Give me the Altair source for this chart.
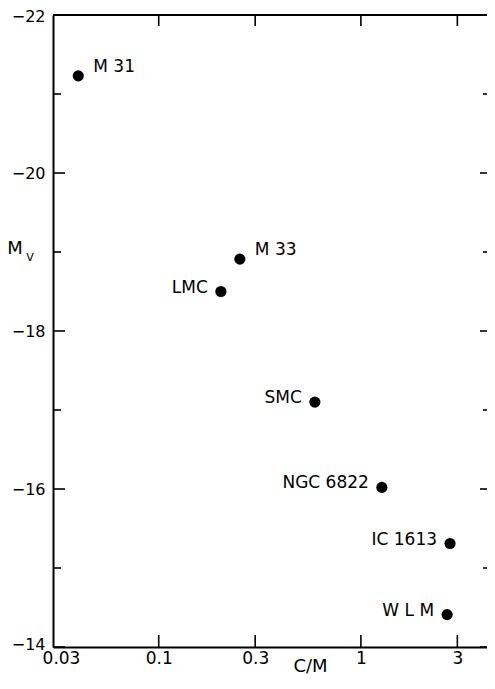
import altair as alt
import pandas as pd

# ---- data ----
galaxies = ["M 31", "M 33", "LMC", "SMC", "NGC 6822", "IC 1613", "W L M"]
c_over_m = [0.040, 0.252, 0.203, 0.592, 1.27, 2.76, 2.67]
m_v = [-21.23, -18.91, -18.50, -17.10, -16.02, -15.31, -14.41]
label_side = ["right", "right", "left", "left", "left", "left", "left"]

y_major = [-22, -20, -18, -16, -14]
y_minor = [-21, -19, -17, -15]
x_ticks = [0.1, 0.3, 1, 3]
x_labels = [0.03, 0.1, 0.3, 1, 3]

W, H = 434, 632
FONT = "DejaVu Sans"

df = pd.DataFrame({"name": galaxies, "cm": c_over_m, "mv": m_v, "side": label_side})

xs = alt.Scale(type="log", domain=[0.03, 4.205], nice=False)
ys = alt.Scale(domain=[-22, -14], reverse=True, nice=False, zero=False)

base = alt.Chart(df)

points = base.mark_circle(size=125, color="black", opacity=1).encode(
    x=alt.X("cm:Q", scale=xs,
            axis=alt.Axis(values=x_labels, format="~g", ticks=False, grid=False,
                          domainColor="black", domainWidth=2,
                          labelFont=FONT, labelFontSize=17, labelColor="black",
                          labelPadding=3, labelFlush=False,
                          labelOffset={"condition": {"test": "datum.value < 0.05", "value": 8}, "value": 0},
                          title="C/M", titleFont=FONT, titleFontSize=18,
                          titleFontWeight="normal", titleColor="black",
                          titleX=257, titleY=19, titleBaseline="middle")),
    y=alt.Y("mv:Q", scale=ys,
            axis=alt.Axis(values=y_major, format="d", ticks=False, grid=False,
                          domainColor="black", domainWidth=2,
                          labelFont=FONT, labelFontSize=16, labelColor="black",
                          labelPadding=8, labelFlush=False,
                          labelOffset={"condition": [
                              {"test": "datum.value == -22", "value": 1},
                              {"test": "datum.value == -14", "value": -3}], "value": 0},
                          title=None)),
)

labels_right = base.transform_filter(alt.datum.side == "right").mark_text(
    align="left", baseline="middle", dx=15, dy=-9, font=FONT, fontSize=17, color="black"
).encode(x=alt.X("cm:Q", scale=xs, axis=None), y=alt.Y("mv:Q", scale=ys, axis=None), text="name:N")

labels_left = base.transform_filter(alt.datum.side == "left").mark_text(
    align="right", baseline="middle", dx=-13, dy=-4, font=FONT, fontSize=17, color="black"
).encode(x=alt.X("cm:Q", scale=xs, axis=None), y=alt.Y("mv:Q", scale=ys, axis=None), text="name:N")

ymaj = alt.Chart(pd.DataFrame({"v": y_major}))
ymin = alt.Chart(pd.DataFrame({"v": y_minor}))
xt = alt.Chart(pd.DataFrame({"v": x_ticks}))

tick_style = dict(color="black", strokeWidth=1.6)

left_major = ymaj.mark_rule(**tick_style).encode(
    y=alt.Y("v:Q", scale=ys, axis=None), x=alt.value(0), x2=alt.value(12))
left_minor = ymin.mark_rule(**tick_style).encode(
    y=alt.Y("v:Q", scale=ys, axis=None), x=alt.value(0), x2=alt.value(8))
right_major = ymaj.mark_rule(**tick_style).encode(
    y=alt.Y("v:Q", scale=ys, axis=None), x=alt.value(W - 7), x2=alt.value(W))
right_minor = ymin.mark_rule(**tick_style).encode(
    y=alt.Y("v:Q", scale=ys, axis=None), x=alt.value(W - 4), x2=alt.value(W))
bottom_ticks = xt.mark_rule(**tick_style).encode(
    x=alt.X("v:Q", scale=xs, axis=None), y=alt.value(H), y2=alt.value(H - 12))
top_ticks = xt.mark_rule(**tick_style).encode(
    x=alt.X("v:Q", scale=xs, axis=None), y=alt.value(0), y2=alt.value(11))

top_border = alt.Chart(pd.DataFrame({"a": [0]})).mark_rule(color="black", strokeWidth=2).encode(
    x=alt.value(0), x2=alt.value(W), y=alt.value(0))

ytitle_m = alt.Chart(pd.DataFrame({"t": ["M"]})).mark_text(
    align="center", baseline="middle", font=FONT, fontSize=18, color="black"
).encode(text="t:N", x=alt.value(-38), y=alt.value(234))
ytitle_v = alt.Chart(pd.DataFrame({"t": ["V"]})).mark_text(
    align="center", baseline="middle", font=FONT, fontSize=11, color="black"
).encode(text="t:N", x=alt.value(-23), y=alt.value(243))

chart = alt.layer(
    points, top_border, left_major, left_minor, right_major, right_minor, bottom_ticks, top_ticks,
    labels_right, labels_left, ytitle_m, ytitle_v
).resolve_axis(
    x="independent", y="independent"
).properties(
    width=W, height=H,
    autosize=alt.AutoSizeParams(type="none"),
    padding={"left": 45, "top": 7, "right": 0, "bottom": 29},
    background="white",
).configure_view(stroke=None)

chart.save("out.html", embed_options={"renderer": "svg", "actions": False})
